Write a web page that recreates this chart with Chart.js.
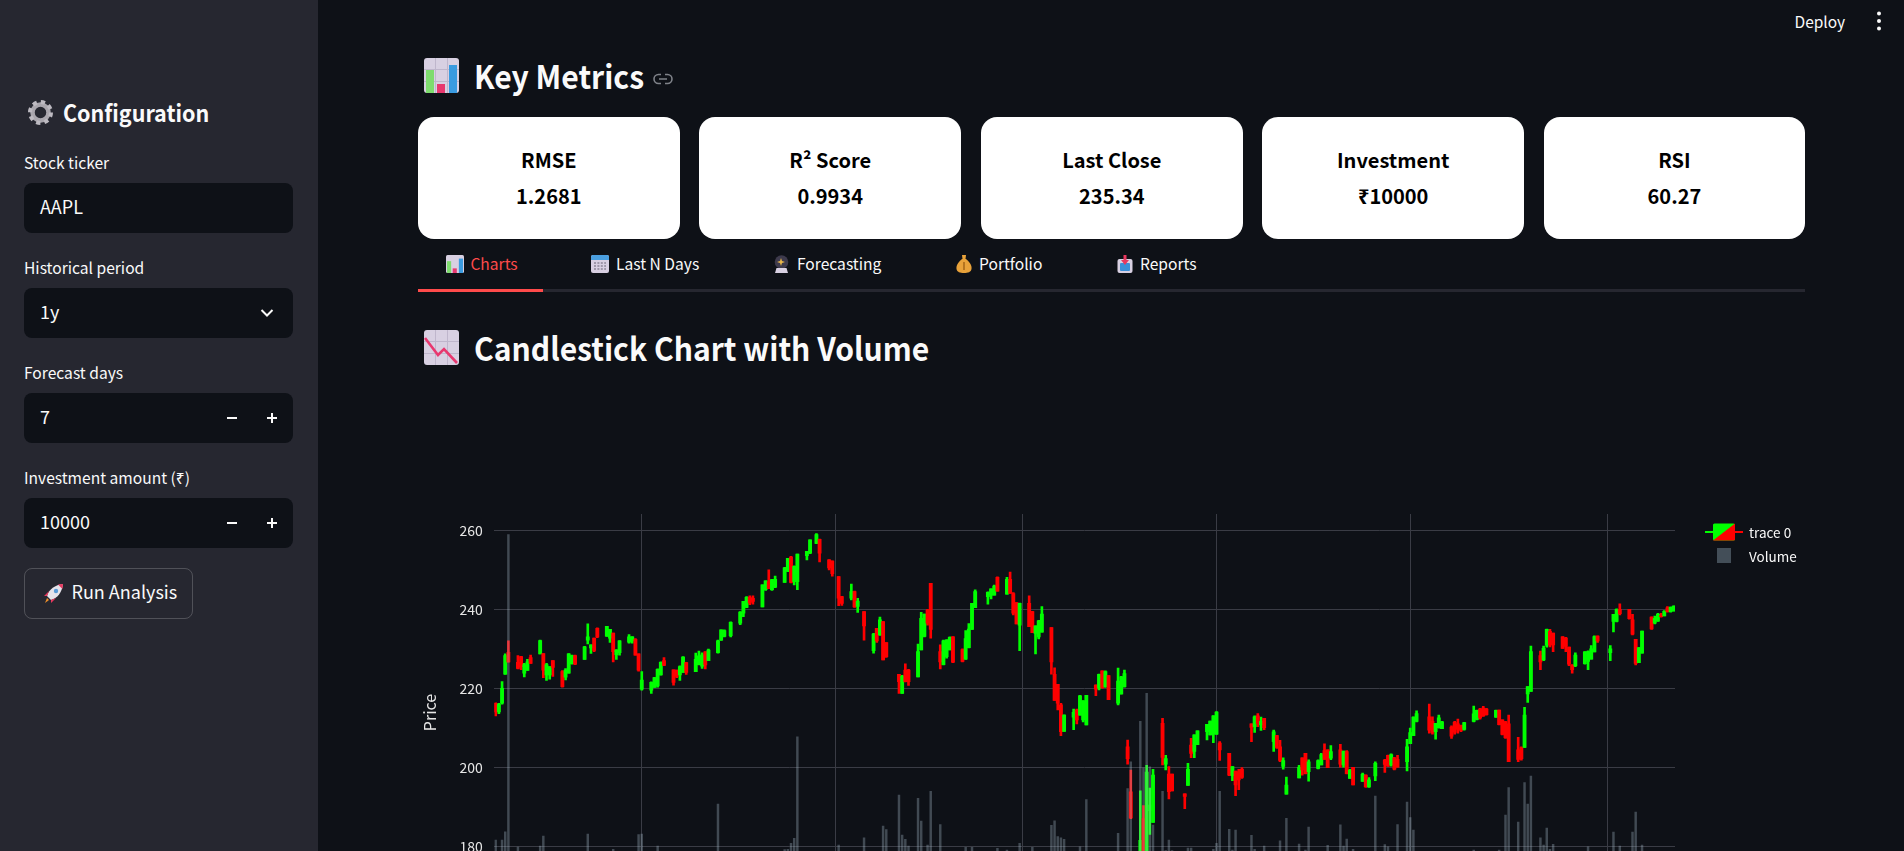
<!DOCTYPE html>
<html>
<head>
<meta charset="utf-8">
<title>Key Metrics</title>
<script src="https://cdn.jsdelivr.net/npm/chart.js@4/dist/chart.umd.min.js"></script>
<style>
  html, body { margin: 0; height: 851px; overflow: hidden; background: #0e1117; color: #fafafa;
    font-family: "Noto Sans CJK SC", "Noto Sans", sans-serif; }
  .side { position: absolute; left: 0; top: 0; width: 318px; height: 851px; background: #262730; }
  .t { position: absolute; transform: translateY(-50%); line-height: 1.2; white-space: nowrap; }
  .lbl { left: 24px; font-size: 15.6px; color: #fafafa; }
  .val { left: 40px; font-size: 18px; }
  .box { position: absolute; left: 24px; width: 269px; height: 50px; background: #0e1117; border-radius: 8px; }
  .btn { position: absolute; left: 24px; top: 568px; width: 167px; height: 48.5px; border: 1px solid rgba(250,250,250,.2); border-radius: 8px; }
  .h2 { font-size: 32px; font-weight: 600; left: 474px; transform: translateY(-50%) scaleX(.94); transform-origin: left center; }
  .card { position: absolute; top: 117px; width: 261.6px; height: 122px; background: #fff; border-radius: 16px; color: #000;
    font-size: 20px; font-weight: 700; }
  .card div { position: absolute; left: 0; right: 0; text-align: center; transform: translateY(-50%); line-height: 1.2; }
  .tab { font-size: 15.6px; }
  svg { position: absolute; }
  #chartCanvas { position: absolute; left: 418px; top: 490px; }
</style>
</head>
<body>
<div class="side"></div>

<!-- sidebar -->
<svg style="left:28px;top:99.5px" width="25" height="25" viewBox="0 0 25 25"><circle cx="12.5" cy="12.5" r="8" fill="none" stroke="#a9a6ad" stroke-width="4.5"/><circle cx="12.5" cy="12.5" r="10.5" fill="none" stroke="#bdbac1" stroke-width="4" stroke-dasharray="4.2 4.05"/></svg>
<div class="t" style="left:63px;top:111.5px;font-size:23.5px;font-weight:600;transform:translateY(-50%) scaleX(.915);transform-origin:left center">Configuration</div>
<div class="t lbl" style="top:162.2px">Stock ticker</div>
<div class="box" style="top:183px"></div>
<div class="t val" style="top:207px">AAPL</div>
<div class="t lbl" style="top:267.2px">Historical period</div>
<div class="box" style="top:288px"></div>
<div class="t val" style="top:311.5px">1y</div>
<svg style="left:260px;top:307.5px" width="14" height="10" viewBox="0 0 14 10"><path d="M1.5 2 L7 7.5 L12.5 2" fill="none" stroke="#fafafa" stroke-width="2"/></svg>
<div class="t lbl" style="top:372.2px">Forecast days</div>
<div class="box" style="top:393px"></div>
<div class="t val" style="top:417px">7</div>
<div class="t lbl" style="top:477.2px">Investment amount (₹)</div>
<div class="box" style="top:498px"></div>
<div class="t val" style="top:522px">10000</div>
<svg style="left:226px;top:412px" width="52" height="12" viewBox="0 0 52 12"><path d="M1 6 H11 M41 6 H51 M46 1 V11" fill="none" stroke="#fafafa" stroke-width="2"/></svg>
<svg style="left:226px;top:517px" width="52" height="12" viewBox="0 0 52 12"><path d="M1 6 H11 M41 6 H51 M46 1 V11" fill="none" stroke="#fafafa" stroke-width="2"/></svg>
<div class="btn"></div>
<svg style="left:43px;top:582.5px" width="21" height="21" viewBox="0 0 21 21"><path d="M4 13 C6 6 12 2 20 1 C19 9 15 15 8 17 Z" fill="#e6e3ea"/><path d="M15 1.6 L20 1 L19.4 6 Z" fill="#e8385f"/><circle cx="13" cy="8" r="2.2" fill="#5a9bd8"/><path d="M4 13 L1 13 L6 8 Z M8 17 L8 20 L13 15 Z" fill="#e8385f"/><path d="M4 15 L6 17 L2 20 Z" fill="#f0902a"/></svg>
<div class="t" style="left:71.5px;top:592px;font-size:18px">Run Analysis</div>

<!-- top right -->
<div class="t" style="left:1794.5px;top:20.5px;font-size:15.5px">Deploy</div>
<svg style="left:1875px;top:10px" width="8" height="22" viewBox="0 0 8 22"><circle cx="4" cy="3.5" r="2" fill="#fafafa"/><circle cx="4" cy="11" r="2" fill="#fafafa"/><circle cx="4" cy="18.5" r="2" fill="#fafafa"/></svg>

<!-- metrics -->
<svg style="left:424px;top:58px" width="35" height="35" viewBox="0 0 35 35"><rect width="35" height="35" rx="3" fill="#d8d0e2"/><path d="M11.5 0 V35 M23.5 0 V35 M0 11.5 H35 M0 23.5 H35" stroke="#bfb6cc"/><rect x="2" y="12" width="8" height="23" fill="#7edc6e"/><rect x="13" y="26" width="8" height="9" fill="#e8386f"/><rect x="25" y="7" width="8" height="28" fill="#3a9be0"/></svg>
<div class="t h2" style="top:75.2px">Key Metrics</div>
<svg style="left:653px;top:73px" width="20" height="12" viewBox="0 0 20 12"><path d="M8 1.5 H5.5 A4.5 4.5 0 0 0 5.5 10.5 H8 M12 1.5 H14.5 A4.5 4.5 0 0 1 14.5 10.5 H12 M6 6 H14" fill="none" stroke="#7f8289" stroke-width="1.6"/></svg>

<div class="card" style="left:418px"><div style="top:43px">RMSE</div><div style="top:79px">1.2681</div></div>
<div class="card" style="left:699.4px"><div style="top:43px">R² Score</div><div style="top:79px">0.9934</div></div>
<div class="card" style="left:981px"><div style="top:43px">Last Close</div><div style="top:79px">235.34</div></div>
<div class="card" style="left:1262.4px"><div style="top:43px">Investment</div><div style="top:79px">₹10000</div></div>
<div class="card" style="left:1543.6px"><div style="top:43px">RSI</div><div style="top:79px">60.27</div></div>

<!-- tabs -->
<svg style="left:446px;top:255px" width="18" height="18" viewBox="0 0 35 35"><rect width="35" height="35" rx="3" fill="#d8d0e2"/><rect x="2" y="12" width="8" height="23" fill="#7edc6e"/><rect x="13" y="26" width="8" height="9" fill="#e8386f"/><rect x="25" y="7" width="8" height="28" fill="#3a9be0"/></svg>
<div class="t tab" style="left:470.4px;top:263px;color:#ff4b4b">Charts</div>
<svg style="left:590.5px;top:255px" width="18" height="18" viewBox="0 0 18 18"><rect width="18" height="18" rx="2" fill="#d8d0e2"/><path d="M2 0 H16 A2 2 0 0 1 18 2 V5 H0 V2 A2 2 0 0 1 2 0 Z" fill="#4a9fe0"/><path d="M3 8 H15 M3 11 H15 M3 14 H15" stroke="#8c8598" stroke-width="1.6" stroke-dasharray="2 1.4"/></svg>
<div class="t tab" style="left:616px;top:263px">Last N Days</div>
<svg style="left:773px;top:255px" width="17" height="18" viewBox="0 0 17 18"><circle cx="8.5" cy="7" r="6.8" fill="#3d3a4c"/><path d="M8 3 L9 6 L12 7 L9 8 L8 11 L7 8 L4 7 L7 6 Z" fill="#e8b74a"/><path d="M3.5 13 H13.5 L15 18 H2 Z" fill="#d8d0e2"/></svg>
<div class="t tab" style="left:797px;top:263px">Forecasting</div>
<svg style="left:956px;top:255px" width="16" height="18" viewBox="0 0 16 18"><path d="M6 0 H10 L9.5 4 H6.5 Z" fill="#e8a23a"/><path d="M6 4 H10 C14 7 16 11 15.5 14 C15 17 12 18 8 18 C4 18 1 17 0.5 14 C0 11 2 7 6 4 Z" fill="#e8a23a"/><path d="M8 7 V15" stroke="#a86a1a" stroke-width="1.6"/></svg>
<div class="t tab" style="left:979px;top:263px">Portfolio</div>
<svg style="left:1116.5px;top:255px" width="16" height="18" viewBox="0 0 16 18"><rect x="0.5" y="4" width="15" height="14" rx="2" fill="#d8d0e2"/><rect x="3" y="8" width="10" height="8" rx="1" fill="#3a8fd8"/><path d="M6.5 0 H9.5 V5 H12 L8 10 L4 5 H6.5 Z" fill="#e8385f"/></svg>
<div class="t tab" style="left:1140px;top:263px">Reports</div>
<div style="position:absolute;left:418px;top:289px;width:1387px;height:2.7px;background:#262730"></div>
<div style="position:absolute;left:418px;top:289px;width:125px;height:2.7px;background:#ff4b4b"></div>

<!-- chart heading -->
<svg style="left:424px;top:330px" width="35" height="35" viewBox="0 0 35 35"><rect width="35" height="35" rx="3" fill="#d8d0e2"/><path d="M11.5 0 V35 M23.5 0 V35 M0 11.5 H35 M0 23.5 H35" stroke="#bfb6cc"/><path d="M1 8 L14 25 L20 19 L33 33" fill="none" stroke="#e8386f" stroke-width="2.6"/></svg>
<div class="t h2" style="top:346.7px">Candlestick Chart with Volume</div>

<canvas id="chartCanvas" width="1387" height="480"></canvas>

<!-- legend -->
<svg style="left:1705px;top:523px" width="38" height="18" viewBox="0 0 38 18"><path d="M0 9 H8" stroke="#00ff00" stroke-width="2"/><path d="M30 9 H38" stroke="#ff0000" stroke-width="2"/><path d="M9 1 A1 1 0 0 1 8 2 V16 L30 1 Z" fill="#00ff00"/><rect x="8" y="0.5" width="22" height="17" rx="1.5" fill="#00ff00"/><path d="M30 0.5 V16 A1.5 1.5 0 0 1 28.5 17.5 H8 Z" fill="#ff0000"/></svg>
<div class="t" style="left:1749px;top:532px;font-size:13.5px">trace 0</div>
<div style="position:absolute;left:1716.7px;top:548.3px;width:14.6px;height:14.6px;background:#434e58"></div>
<div class="t" style="left:1749px;top:556px;font-size:13.5px">Volume</div>

<script>
// daily bars, one line per month
const dates = [
  "2024-09-16","2024-09-17","2024-09-18","2024-09-19","2024-09-20","2024-09-23","2024-09-24","2024-09-25","2024-09-26","2024-09-27","2024-09-30",
  "2024-10-01","2024-10-02","2024-10-03","2024-10-04","2024-10-07","2024-10-08","2024-10-09","2024-10-10","2024-10-11","2024-10-14","2024-10-15","2024-10-16","2024-10-17","2024-10-18","2024-10-21","2024-10-22","2024-10-23","2024-10-24","2024-10-25","2024-10-28","2024-10-29","2024-10-30","2024-10-31",
  "2024-11-01","2024-11-04","2024-11-05","2024-11-06","2024-11-07","2024-11-08","2024-11-11","2024-11-12","2024-11-13","2024-11-14","2024-11-15","2024-11-18","2024-11-19","2024-11-20","2024-11-21","2024-11-22","2024-11-25","2024-11-26","2024-11-27","2024-11-29",
  "2024-12-02","2024-12-03","2024-12-04","2024-12-05","2024-12-06","2024-12-09","2024-12-10","2024-12-11","2024-12-12","2024-12-13","2024-12-16","2024-12-17","2024-12-18","2024-12-19","2024-12-20","2024-12-23","2024-12-24","2024-12-26","2024-12-27","2024-12-30","2024-12-31",
  "2025-01-02","2025-01-03","2025-01-06","2025-01-07","2025-01-08","2025-01-10","2025-01-13","2025-01-14","2025-01-15","2025-01-16","2025-01-17","2025-01-21","2025-01-22","2025-01-23","2025-01-24","2025-01-27","2025-01-28","2025-01-29","2025-01-30","2025-01-31",
  "2025-02-03","2025-02-04","2025-02-05","2025-02-06","2025-02-07","2025-02-10","2025-02-11","2025-02-12","2025-02-13","2025-02-14","2025-02-18","2025-02-19","2025-02-20","2025-02-21","2025-02-24","2025-02-25","2025-02-26","2025-02-27","2025-02-28",
  "2025-03-03","2025-03-04","2025-03-05","2025-03-06","2025-03-07","2025-03-10","2025-03-11","2025-03-12","2025-03-13","2025-03-14","2025-03-17","2025-03-18","2025-03-19","2025-03-20","2025-03-21","2025-03-24","2025-03-25","2025-03-26","2025-03-27","2025-03-28","2025-03-31",
  "2025-04-01","2025-04-02","2025-04-03","2025-04-04","2025-04-07","2025-04-08","2025-04-09","2025-04-10","2025-04-11","2025-04-14","2025-04-15","2025-04-16","2025-04-17","2025-04-21","2025-04-22","2025-04-23","2025-04-24","2025-04-25","2025-04-28","2025-04-29","2025-04-30",
  "2025-05-01","2025-05-02","2025-05-05","2025-05-06","2025-05-07","2025-05-08","2025-05-09","2025-05-12","2025-05-13","2025-05-14","2025-05-15","2025-05-16","2025-05-19","2025-05-20","2025-05-21","2025-05-22","2025-05-23","2025-05-27","2025-05-28","2025-05-29","2025-05-30",
  "2025-06-02","2025-06-03","2025-06-04","2025-06-05","2025-06-06","2025-06-09","2025-06-10","2025-06-11","2025-06-12","2025-06-13","2025-06-16","2025-06-17","2025-06-18","2025-06-20","2025-06-23","2025-06-24","2025-06-25","2025-06-26","2025-06-27","2025-06-30",
  "2025-07-01","2025-07-02","2025-07-03","2025-07-07","2025-07-08","2025-07-09","2025-07-10","2025-07-11","2025-07-14","2025-07-15","2025-07-16","2025-07-17","2025-07-18","2025-07-21","2025-07-22","2025-07-23","2025-07-24","2025-07-25","2025-07-28","2025-07-29","2025-07-30","2025-07-31",
  "2025-08-01","2025-08-04","2025-08-05","2025-08-06","2025-08-07","2025-08-08","2025-08-11","2025-08-12","2025-08-13","2025-08-14","2025-08-15","2025-08-18","2025-08-19","2025-08-20","2025-08-21","2025-08-22","2025-08-25","2025-08-26","2025-08-27","2025-08-28","2025-08-29",
  "2025-09-02","2025-09-03","2025-09-04","2025-09-05","2025-09-08","2025-09-09","2025-09-10","2025-09-11","2025-09-12","2025-09-15","2025-09-16","2025-09-17","2025-09-18","2025-09-19","2025-09-20","2025-09-21","2025-09-22",
];
const openPrices = [
  216.2,214,216.2,223.6,229.1,226.6,228,223.8,224.5,227.8,228.7,
  228.8,223.4,223.4,227,224.2,222.8,223.8,226.2,228.3,227.3,232.2,230.2,232.7,235.2,233.2,232.7,234,228.5,229,231.7,232,232.4,228.7,
  219.8,219.5,220.2,220.6,223.4,227,224.7,224.6,223.4,224,226.5,224.2,226,225.6,229.2,227,229,232.2,233.1,233.3,
  236.5,239,240.5,243,242.8,240.6,245,247,245,245.6,246.8,249.6,253.2,247,247,253.6,254.2,256.7,257.7,252.5,252.2,
  248.3,243.2,242.8,244.5,240.7,239.4,229.5,235.2,233.5,236.9,231.6,223.5,218.7,224.6,224.6,222.9,229.7,233.1,239.8,246.6,
  229.3,226,228,229.7,233,229.8,227.4,230.3,234.9,240.4,243.2,243.6,243.6,248.1,243.8,247.6,244,241.7,236,
  241.5,239.4,233.9,233,234.2,235.4,223.5,221,215.8,209.1,212.7,214.5,213.2,212,210.7,220.8,220,224.4,220.4,223.2,216.2,
  218.6,220.4,205.2,193.8,177,187,171.9,189,186,211.1,200.8,198.3,198.3,193.3,195.4,205.6,204,205.7,209,208.2,208.4,
  208.4,206.1,203.5,197.9,199,198.9,199.5,211,210.3,213,210.7,212.4,206.5,208,205.2,200.2,193.2,197.3,202.4,203.5,198.9,
  199.7,200.6,204.2,204.4,202.3,204.4,200.6,204,197.2,200,196.4,198,195,197.8,201.8,203,200.6,202.4,202,201.4,
  206,208,211.6,212.8,211.6,209,210,209.8,210.2,211.4,211,210.6,209.6,211.6,212.1,214.7,215,214.7,212.7,214.5,212,211.5,
  211,204.4,205,205,218.6,219.2,228.3,227.2,230.9,234.4,234,233,232.7,230.4,225.9,225.7,226.2,226.8,227.4,229.2,233.2,
  229,236.9,236.9,240,240,237.3,232.4,226.5,228.9,238,236.5,237,238.5,238.3,240.4,239.4,239.6,
];
const highPrices = [
  216.3,216.2,221.7,228.7,232,228.3,228.1,226.3,227.3,228.4,232.2,
  228.8,226.3,225.5,227,224.5,225,228.8,228.4,228.4,230.6,236.3,231,232.7,235.3,235.7,234.9,234,229.8,232.1,233.6,233.1,232.6,228.7,
  224.2,221.6,222.8,224.9,226.7,227.8,224.7,224.6,225.7,228,226.6,228.9,229.4,229,229.3,229.9,232.2,234.8,234.8,236.8,
  239.4,242,243.2,243.4,243.4,246.2,247.2,250,247.6,248.4,250.6,252.9,253.4,251,254,254.7,257.6,259.2,257.8,252.6,252.3,
  248.3,243.3,246.4,244.6,242.8,239.4,233.9,235.2,238,236.9,231.6,223.5,223.3,226.2,224.8,231.2,239.2,238.8,240,246.6,
  231,232.2,232.3,233,233.1,230,234.6,236.4,241.5,244.9,244.4,245.2,246.1,248.2,248.1,249.4,244.2,241.7,241.6,
  243.4,239.5,235.8,237.2,240.7,235.4,225.2,221,216.2,213.3,214.7,214.7,218.2,216.9,218.2,220.9,223.6,224.4,224.4,223.2,225.1,
  223,224.6,206.9,199.3,194,190.3,200.5,194.7,199.5,212.4,203,200.2,198.3,193.3,201,207.3,208.2,209.2,210.9,211.7,213.1,
  214.1,206.5,203.5,200.2,199,199.5,199.9,211,213,213.6,212.7,212.4,209.4,208.1,206.8,202.4,197.5,200.5,202.4,203.5,201.9,
  201.9,203.5,205.9,204.4,205.5,205.8,204.1,204.2,199.5,200,198.5,198.1,197.4,201.4,202,203.1,203.4,202.5,203,207.1,
  209.9,212.8,214.3,216,212.8,211.1,213.2,211.6,210.5,211.6,212.2,210.7,211.4,215.5,214.5,214.9,215.4,214.9,214.5,214.5,212,211.6,
  213.2,207.6,205.2,215.2,220.4,230.7,229.4,230.7,235,234.9,234,233.1,232.9,230.4,226,229,229.3,229.5,230.8,233.3,233.3,
  230.8,238.7,240.1,241.4,240,238.7,232.4,230.3,234.5,238.1,238.3,239,239,239.7,240.7,240.6,240.9,
];
const lowPrices = [
  213,213.6,216,223.5,226.6,224.9,224.7,222.9,224.5,226.3,228.7,
  222.7,222,222.3,223,220.3,222.1,223.8,226.1,226,227.3,231.2,228.8,229.3,232.8,233.1,231.6,226.7,227.3,228.4,231.4,231.4,228.4,224.3,
  219.5,218.7,220.2,220.3,223.3,225.7,220.8,222.7,222,224,223.5,224.2,225.9,225,224.9,227,228.9,232.1,233,233,
  236.1,238.1,240.4,241.2,241.3,240.6,244.8,245.2,244.8,245.5,246.8,249.5,246.7,246.2,245,252.5,254.1,256.6,252,250,248.4,
  240.9,241,242.4,240.5,239.2,232.2,228.9,231.6,233.4,227.2,227.8,218.7,218.7,221.6,220.7,222.9,229.7,233,236,232.7,
  224.9,225.9,227.6,229.7,226.5,226.7,227.3,230.2,234.9,240.4,241.3,242.6,243.6,244.6,243.8,244,238.6,236.3,229.5,
  235.6,234.1,228.7,232.5,234.2,223.6,216.9,214.5,208,209.1,209.5,211,213.2,211.5,210.7,218.1,219.6,220,220.2,217.1,215.8,
  218.5,220.3,200.8,187,172.4,169.2,171.9,183,186,200.6,199.3,192,194,189.5,195.4,202.4,202.4,205.7,206.9,208.2,206.2,
  208.3,201.7,197.9,196.6,192.8,194.3,197.2,206.5,208.8,210.3,209.3,209.5,204,204.8,201.4,199.5,193.2,197.3,198,198.3,196.5,
  199.6,200.6,202,199.9,201.9,200,200,198.3,197.2,195.5,196.4,194.9,194.9,196.6,198.7,200.2,200.3,199.3,200,199.1,
  206,208,211.5,208.6,208.4,207.1,209.9,209.8,207.3,208.4,208.6,209,209.4,211.5,212,212.2,212.9,213.2,212.6,210.7,208.2,207.3,
  201.4,201.4,201.8,205,216.4,219.2,224.7,227,230.4,230.5,229.3,230.1,229.3,225.7,223.8,225.5,226.1,224.7,227.4,229.2,231.6,
  227,234.3,236.8,238.6,237.5,233.5,225.9,226.5,228.9,234.9,236.3,236.9,238,238.3,239.3,239.3,239.5,
];
const closePrices = [
  214,216,220,228.3,226.7,225,225.5,226,226.7,226.3,232.1,
  224.6,226,225.5,225.3,220.4,224.6,228.7,228.3,226.1,230.5,233,231,229.6,233,235.7,234.9,229.3,229.7,232,233,233,228.4,224.6,
  222.1,221.5,222.7,224.8,226.6,225.8,221.5,223,225.5,227.9,224,227.3,228.2,228.5,225.9,229.7,232,234.8,234.6,236.7,
  239.3,242,243,241.6,242,246.2,247.2,245.2,247.5,247.6,250.5,252.9,246.8,250.9,254,254.7,257.6,258.9,254.2,250.5,249,
  242.8,241.5,244.5,240.6,242.1,235.8,233.7,232,237.3,227.2,228,221.7,223.1,221.7,221.7,229.3,237.7,238.8,236.5,234.9,
  226.7,232,232.2,232.9,226.6,226.8,232.6,235,241.5,244.5,244.3,245.2,245.9,244.6,247.6,244,239,236.3,241.5,
  235.6,234.1,235.8,237.1,238.8,226.7,216.9,216.2,209,213.2,213.9,212,218.1,216.8,218.2,219.8,223.5,220.1,224.2,217.1,221.8,
  222.9,223.7,202.2,187.2,181.5,172.4,198.8,190.4,198,202.5,202.2,193.8,194,192.6,199.5,203.5,208.2,209.2,210.9,211.7,213,
  214,204.4,198,200.2,195.5,196.8,197.4,210.1,212.8,211,211.6,210,209,205,201.7,201.7,195.5,200,199.3,198.4,201.4,
  201.7,203.2,202,199.9,204,200.8,204.1,198.4,199.3,195.5,198.2,195.1,196.8,201,200.7,200.3,203.2,199.5,200,205.2,
  208.8,212.7,213.6,209.4,208.8,211.1,212.5,211.5,207.9,208.9,209.6,209.3,211.3,213.5,214.4,212.5,213,213.3,214.4,210.8,208.3,207.5,
  201.4,202,202.2,213.2,220.4,229.3,226.7,230.1,234.9,231,231,230.1,230.6,226.1,224.7,228.4,229.2,229.3,230,233.1,232,
  230,238.7,240,238.9,237.6,233.7,226.3,230.3,234.5,235,237.7,238.7,238.1,239.5,239.4,240.5,240.8,
];
// volume in millions; anything under ~50 sits below the fold, so those are rough
const volumes = [
  59.9,40,59.9,66.9,317.6,54,43,42,36,34,54.8,
  63.2,32,38,37,39,31,40,31,31,39,64.9,35,32,47,36,38,52,31,38,36,35,47,64.4,
  64.9,44,28,54.8,42,38,42,40,33,47,47,44,36,35,42,38,90.2,45,33,28,
  48,38,44,36,37,44,36,45,32,33,51.9,52,57.1,61.3,146.9,40,23,27,42,35,39,
  55.6,40,45,40,37,61.8,49,39,39,71.7,68.8,97.8,64.1,60.4,54.8,95,75.9,45,55.6,100.9,
  73,45,39,29,39,33,53.7,45,53.7,40,48,32,32,52.8,51.4,48,44,41,57,
  47,53.7,47,45,46,72.2,76.1,62.7,61.8,60.4,48,42,54.2,48,94.1,44,34,34,37,39,65.5,
  36,35,103.4,125.9,160.1,120.8,183.7,121.6,72.5,101,51,59.8,51,46,53,53,47,38,38,36,52,
  57,100.9,69,51.4,68.3,36,36,63.8,52,38,46,54.8,46,42,59.3,46,78.1,56.5,45,51.4,70.8,
  35,47,44,55.4,46,72.8,54.8,60.7,43,52,50,44,45,96.9,56,54.2,39,50,73,91.9,
  78.9,68.3,35,50,42,48,44,39,38,43,39,34,48,51.4,46,46,46,40,37,51.4,45,80.9,
  104.2,75,45,108.4,90.2,113.8,61.8,55.6,70,52,56.2,37,39,42,30,42,31,54.2,31,38,39,
  44,66.6,47,54.8,48,66.6,83.5,50,55.7,42,42,42,44,48,40,40,40,
];
const priceTicks = [180, 200, 220, 240, 260];
const monthTicks = ["2024-11-01", "2025-01-01", "2025-03-01", "2025-05-01", "2025-07-01", "2025-09-01"];
const monthLabels = ["Nov 2024", "Jan 2025", "Mar 2025", "May 2025", "Jul 2025", "Sep 2025"];

const UP = "#00ff00";
const DOWN = "#ff0000";
const GRID = "#3a3c45";
const DAY = 86400000;
const times = dates.map((d) => Date.parse(d));
const candleColors = openPrices.map((o, i) => (closePrices[i] >= o ? UP : DOWN));

new Chart(document.getElementById("chartCanvas"), {
  type: "bar",
  data: {
    datasets: [
      {
        label: "Volume",
        data: times.map((x, i) => ({ x, y: volumes[i] })),
        yAxisID: "yVolume",
        backgroundColor: "rgba(170,190,205,0.33)",
        barThickness: 1.8,
        grouped: false,
        order: 1,
      },
      {
        label: "trace 0",
        data: times.map((x, i) => ({ x, y: [openPrices[i], closePrices[i]] })),
        yAxisID: "y",
        backgroundColor: candleColors,
        barThickness: 3.2,
        grouped: false,
        order: 2,
      },
      {
        label: "wick",
        data: times.map((x, i) => ({ x, y: [lowPrices[i], highPrices[i]] })),
        yAxisID: "y",
        backgroundColor: candleColors,
        barThickness: 2,
        grouped: false,
        order: 3,
      },
    ],
  },
  options: {
    responsive: false,
    animation: false,
    layout: { padding: { left: 0, right: 130, top: 24, bottom: 0 } },
    plugins: { legend: { display: false }, tooltip: { enabled: false } },
    scales: {
      x: {
        type: "linear",
        offset: false, // bar charts turn this on, which would shift the dates
        min: times[0] - 0.44 * DAY,
        max: times[times.length - 1] + 0.38 * DAY,
        grid: { color: GRID, drawTicks: false, offset: false },
        border: { display: false },
        ticks: {
          color: "#e6e6e6",
          font: { family: "Noto Sans CJK SC", size: 14 },
          maxRotation: 0,
          callback: (v) => monthLabels[monthTicks.findIndex((m) => Date.parse(m) === v)],
        },
        afterBuildTicks: (scale) => {
          scale.ticks = monthTicks.map((m) => ({ value: Date.parse(m) }));
        },
        afterFit: (scale) => {
          scale.height = 59;
        },
      },
      y: {
        position: "left",
        min: 163.6,
        max: 264.13,
        grid: { color: GRID, drawTicks: false },
        border: { display: false },
        title: {
          display: true,
          text: "Price",
          color: "#e6e6e6",
          font: { family: "Noto Sans CJK SC", size: 16 },
          padding: { top: 2.4, bottom: 0 },
        },
        ticks: {
          color: "#e6e6e6",
          padding: 11.6,
          font: { family: "Noto Sans CJK SC", size: 14 },
        },
        afterBuildTicks: (scale) => {
          scale.ticks = priceTicks.map((value) => ({ value }));
        },
        afterFit: (scale) => {
          scale.width = 76.3;
        },
      },
      yVolume: {
        position: "right",
        display: false,
        min: 0,
        max: 335,
      },
    },
  },
});
</script>
</body>
</html>
